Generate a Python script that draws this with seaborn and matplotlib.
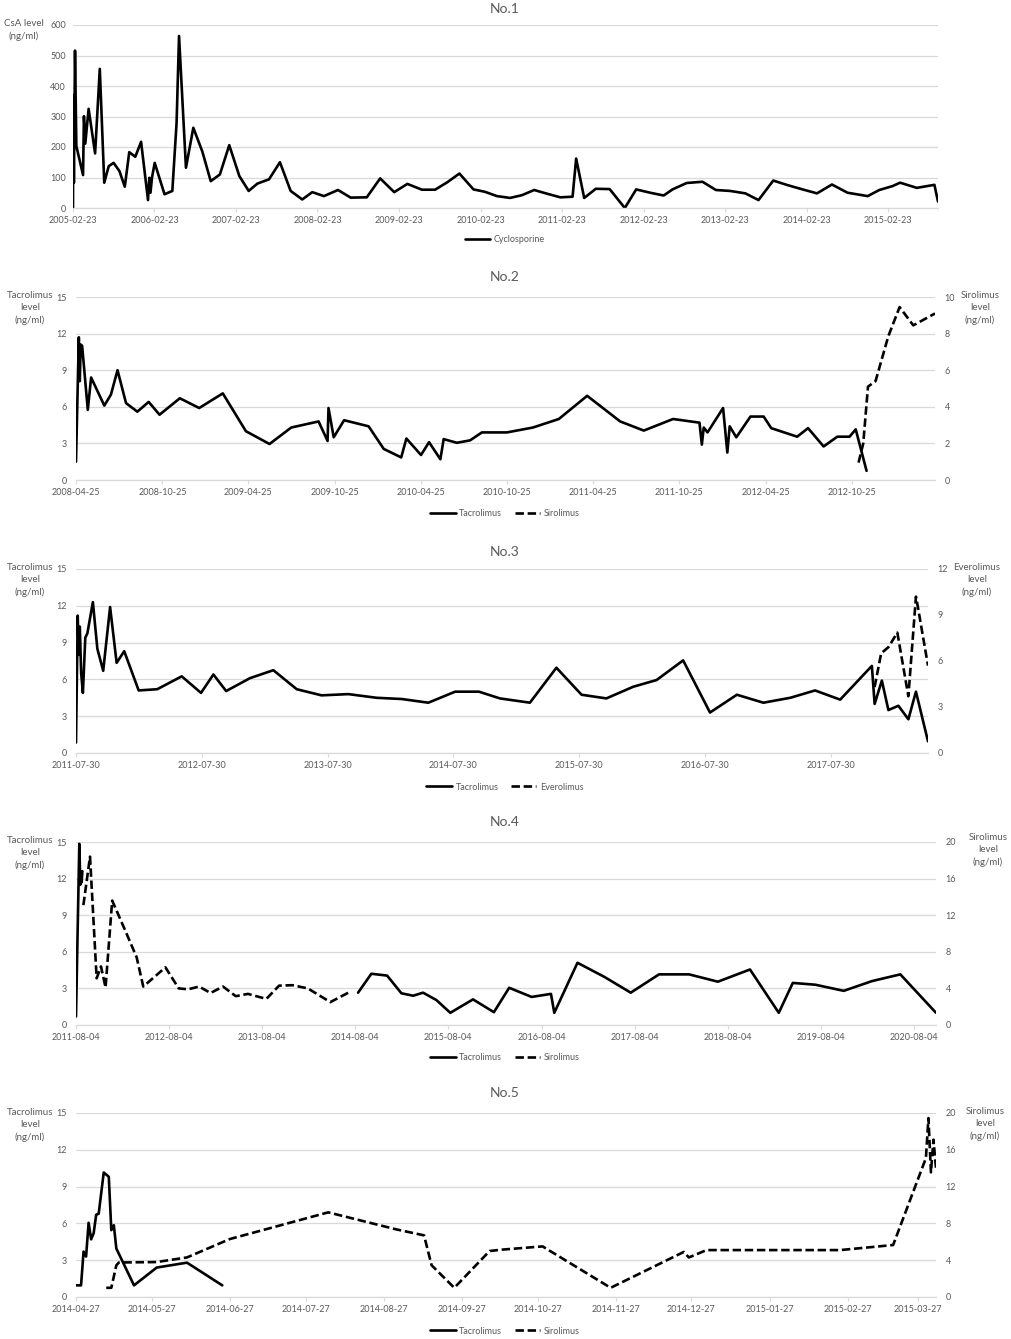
import numpy as np
import pandas as pd
import seaborn as sns
import matplotlib.pyplot as plt
import matplotlib.dates as mdates
from matplotlib.lines import Line2D

# ---- No.1 : cyclosporine ----
p1_dates = [
    "2005-02-23", "2005-02-24", "2005-02-27", "2005-03-04", "2005-03-10", "2005-04-09",
    "2005-04-13", "2005-04-19", "2005-05-04", "2005-06-02", "2005-06-23", "2005-07-13",
    "2005-08-02", "2005-08-24", "2005-09-19", "2005-10-13", "2005-11-02", "2005-11-29",
    "2005-12-25", "2006-01-25", "2006-01-31", "2006-02-05", "2006-02-12", "2006-02-24",
    "2006-04-09", "2006-05-14", "2006-06-02", "2006-06-13", "2006-07-14", "2006-08-16",
    "2006-09-25", "2006-11-02", "2006-12-13", "2007-01-24", "2007-03-10", "2007-04-21",
    "2007-05-30", "2007-07-21", "2007-09-08", "2007-10-26", "2007-12-17", "2008-01-31",
    "2008-03-23", "2008-05-25", "2008-07-21", "2008-10-01", "2008-11-30", "2009-02-01",
    "2009-04-01", "2009-06-05", "2009-08-03", "2009-09-28", "2009-11-20", "2010-01-22",
    "2010-03-15", "2010-05-07", "2010-07-05", "2010-08-27", "2010-10-21", "2010-12-17",
    "2011-02-15", "2011-04-11", "2011-04-27", "2011-06-02", "2011-07-24", "2011-09-24",
    "2011-12-01", "2012-01-21", "2012-03-24", "2012-05-23", "2012-07-02", "2012-09-03",
    "2012-11-13", "2013-01-12", "2013-03-16", "2013-05-24", "2013-07-22", "2013-09-26",
    "2013-11-29", "2014-02-04", "2014-04-10", "2014-06-16", "2014-08-25", "2014-11-23",
    "2015-01-14", "2015-03-15", "2015-04-17", "2015-07-01", "2015-09-18", "2015-10-04",
]
p1_csa = [
    0, 370, 83, 516, 203, 108,
    301, 211, 325, 179, 456, 83,
    137, 148, 121, 70, 183, 168,
    217, 26, 99, 50, 100, 148,
    45, 56, 279, 564, 132, 263,
    186, 88, 110, 206, 105, 56,
    80, 94, 150, 56, 28, 52,
    39, 59, 34, 35, 97, 52,
    79, 60, 60, 85, 113, 61,
    53, 39, 33, 42, 59, 47,
    35, 37, 162, 33, 63, 62,
    0, 61, 50, 41, 61, 82,
    86, 59, 56, 48, 26, 90,
    75, 61, 48, 77, 50, 39,
    59, 72, 83, 66, 76, 21,
]

# ---- No.2 : tacrolimus then sirolimus ----
p2_tac_dates = [
    "2008-04-25", "2008-05-01", "2008-05-03", "2008-05-05", "2008-05-08", "2008-05-20",
    "2008-05-27", "2008-06-24", "2008-07-08", "2008-07-22", "2008-08-09", "2008-09-02",
    "2008-09-26", "2008-10-19", "2008-12-01", "2009-01-11", "2009-03-02", "2009-04-20",
    "2009-06-09", "2009-07-25", "2009-09-21", "2009-10-10", "2009-10-12", "2009-10-23",
    "2009-11-14", "2010-01-05", "2010-02-06", "2010-03-15", "2010-03-26", "2010-04-26",
    "2010-05-13", "2010-06-06", "2010-06-13", "2010-07-11", "2010-08-08", "2010-09-02",
    "2010-10-25", "2010-12-19", "2011-02-12", "2011-04-13", "2011-06-22", "2011-08-11",
    "2011-10-12", "2011-12-07", "2011-12-12", "2011-12-16", "2011-12-24", "2012-01-26",
    "2012-02-04", "2012-02-09", "2012-02-23", "2012-03-24", "2012-04-21", "2012-05-07",
    "2012-07-01", "2012-07-24", "2012-08-26", "2012-09-24", "2012-10-20", "2012-11-02",
    "2012-11-25",
]
p2_tac = [
    1.5, 11.7, 8.1, 11.1, 11.0, 5.75,
    8.4, 6.1, 7.0, 9.0, 6.3, 5.6,
    6.4, 5.35, 6.7, 5.9, 7.1, 4.0,
    2.95, 4.3, 4.8, 3.2, 5.9, 3.5,
    4.9, 4.4, 2.55, 1.85, 3.4, 2.05,
    3.1, 1.7, 3.35, 3.05, 3.25, 3.9,
    3.9, 4.3, 5.0, 6.9, 4.8, 4.05,
    5.0, 4.7, 2.9, 4.3, 3.9, 5.9,
    2.25, 4.4, 3.5, 5.2, 5.2, 4.25,
    3.55, 4.25, 2.75, 3.55, 3.55, 4.15,
    0.75,
]
p2_sir_dates = ["2012-11-08", "2012-11-18", "2012-11-28", "2012-12-14",
                "2013-01-10", "2013-02-03", "2013-03-04", "2013-04-19"]
p2_sir = [0.95, 2.0, 5.1, 5.4, 7.85, 9.45, 8.45, 9.1]

# ---- No.3 : tacrolimus then everolimus ----
p3_tac_dates = [
    "2011-07-30", "2011-08-04", "2011-08-07", "2011-08-10", "2011-08-14", "2011-08-19",
    "2011-08-26", "2011-09-01", "2011-09-17", "2011-09-30", "2011-10-17", "2011-11-06",
    "2011-11-25", "2011-12-17", "2012-01-28", "2012-03-22", "2012-06-01", "2012-07-27",
    "2012-09-01", "2012-10-08", "2012-12-16", "2013-02-22", "2013-05-01", "2013-07-12",
    "2013-09-28", "2013-12-19", "2014-03-02", "2014-05-18", "2014-08-04", "2014-10-12",
    "2014-12-12", "2015-03-09", "2015-05-25", "2015-08-06", "2015-10-17", "2016-01-03",
    "2016-03-11", "2016-05-27", "2016-08-13", "2016-10-30", "2017-01-15", "2017-04-03",
    "2017-06-14", "2017-08-26", "2017-11-26", "2017-12-04", "2017-12-25", "2018-01-13",
    "2018-02-11", "2018-03-12", "2018-04-03", "2018-05-08",
]
p3_tac = [
    0.85, 11.2, 8.0, 10.3, 6.5, 4.9,
    9.4, 9.75, 12.3, 8.5, 6.7, 11.9,
    7.35, 8.3, 5.1, 5.2, 6.25, 4.9,
    6.4, 5.05, 6.1, 6.75, 5.2, 4.7,
    4.8, 4.5, 4.4, 4.1, 5.0, 5.0,
    4.45, 4.1, 6.95, 4.75, 4.45, 5.4,
    5.95, 7.55, 3.3, 4.75, 4.1, 4.5,
    5.1, 4.35, 7.1, 4.0, 5.9, 3.5,
    3.85, 2.75, 5.0, 0.95,
]
p3_eve_dates = ["2017-12-04", "2017-12-23", "2018-01-13", "2018-02-08",
                "2018-03-12", "2018-04-03", "2018-04-08", "2018-05-08"]
p3_eve = [4.3, 6.5, 6.9, 7.85, 3.7, 10.2, 9.6, 5.7]

# ---- No.4 : tacrolimus, sirolimus, tacrolimus ----
p4_tac_a_dates = ["2011-08-04", "2011-08-17", "2011-08-21", "2011-08-24", "2011-08-26", "2011-08-29"]
p4_tac_a = [0.7, 14.85, 11.5, 12.6, 11.7, 12.6]
p4_tac_b_dates = [
    "2014-08-15", "2014-10-06", "2014-12-07", "2015-02-01", "2015-03-19", "2015-04-27",
    "2015-06-18", "2015-08-12", "2015-11-09", "2016-01-30", "2016-03-30", "2016-06-26",
    "2016-09-10", "2016-09-23", "2016-12-23", "2017-04-07", "2017-07-20", "2017-11-08",
    "2018-03-06", "2018-06-27", "2018-10-31", "2019-02-21", "2019-04-17", "2019-07-15",
    "2019-11-03", "2020-02-22", "2020-06-12", "2020-10-30",
]
p4_tac_b = [
    2.65, 4.2, 4.05, 2.6, 2.4, 2.65,
    2.05, 1.0, 2.1, 1.05, 3.05, 2.3,
    2.55, 1.0, 5.1, 3.95, 2.65, 4.15,
    4.15, 3.55, 4.55, 1.0, 3.45, 3.3,
    2.8, 3.6, 4.15, 1.0,
]
p4_sir_dates = [
    "2011-09-02", "2011-09-28", "2011-10-24", "2011-11-10", "2011-11-28", "2011-12-24",
    "2012-02-12", "2012-03-29", "2012-04-24", "2012-07-20", "2012-09-10", "2012-10-17",
    "2012-11-29", "2013-01-13", "2013-03-03", "2013-04-22", "2013-06-09", "2013-08-20",
    "2013-10-09", "2013-11-30", "2014-01-30", "2014-04-28", "2014-07-09",
]
p4_sir = [
    13.1, 18.4, 5.1, 6.4, 4.1, 13.6,
    10.4, 7.4, 4.2, 6.3, 4.0, 3.9,
    4.2, 3.5, 4.2, 3.15, 3.4, 2.85,
    4.3, 4.35, 4.0, 2.5, 3.55,
]

# ---- No.5 : tacrolimus then sirolimus ----
p5_tac_dates = [
    "2014-04-27", "2014-04-29", "2014-04-30", "2014-05-01", "2014-05-02", "2014-05-03",
    "2014-05-04", "2014-05-05", "2014-05-06", "2014-05-08", "2014-05-10", "2014-05-11",
    "2014-05-12", "2014-05-13", "2014-05-20", "2014-05-29", "2014-06-10", "2014-06-24",
]
p5_tac = [
    0.95, 0.95, 3.7, 3.3, 6.05, 4.7,
    5.2, 6.7, 6.8, 10.15, 9.8, 5.45,
    5.85, 3.95, 0.95, 2.4, 2.8, 0.95,
]
p5_sir_dates = [
    "2014-05-09", "2014-05-11", "2014-05-13", "2014-05-14", "2014-05-29", "2014-06-10",
    "2014-06-27", "2014-08-05", "2014-09-01", "2014-09-12", "2014-09-15", "2014-09-24",
    "2014-10-08", "2014-10-13", "2014-10-29", "2014-11-25", "2014-12-24", "2014-12-26",
    "2015-01-02", "2015-02-24", "2015-03-17", "2015-03-30", "2015-03-31", "2015-04-01",
    "2015-04-02", "2015-04-03",
]
p5_sir = [
    1.0, 1.0, 3.45, 3.75, 3.8, 4.3,
    6.3, 9.2, 7.35, 6.7, 3.45, 1.0,
    5.0, 5.15, 5.5, 1.0, 4.9, 4.3,
    5.1, 5.1, 5.65, 15.1, 19.45, 13.55,
    17.1, 14.0,
]

W, H = 1012, 1339
GREY = "#595959"
GRID = "#d9d9d9"
LW = 1.9
DASH = (3.2, 1.4)
FS = 6.5

sns.set_theme(style="white")
plt.rcParams["font.family"] = ["Lato", "DejaVu Sans"]

fig = plt.figure(figsize=(W / 100, H / 100), dpi=100)


def px_axes(left, top, right, bottom):
    return fig.add_axes([left / W, 1 - bottom / H, (right - left) / W, (bottom - top) / H])


def series(ax, dates, values, dashed=False):
    df = pd.DataFrame({"date": pd.to_datetime(dates), "level": values})
    sns.lineplot(data=df, x="date", y="level", ax=ax, color="black", lw=LW,
                 estimator=None, dashes=False)
    if dashed:
        ax.get_lines()[-1].set_dashes(DASH)


def style(ax, ymax, ystep, start, end, ticks, pad):
    ax.set_ylim(0, ymax)
    ax.set_yticks(np.arange(0, ymax + ystep / 2, ystep))
    ax.set_xlim(pd.Timestamp(start), pd.Timestamp(end))
    ax.set_xticks(mdates.date2num(ticks))
    ax.xaxis.set_major_formatter(mdates.DateFormatter("%Y-%m-%d"))
    ax.grid(axis="y", color=GRID, lw=0.9)
    ax.grid(axis="x", visible=False)
    for s in ["top", "right", "left"]:
        ax.spines[s].set_visible(False)
    ax.spines["bottom"].set_color(GRID)
    ax.spines["bottom"].set_linewidth(0.9)
    ax.tick_params(axis="y", length=0, labelsize=FS, labelcolor=GREY, pad=pad)
    ax.tick_params(axis="x", bottom=True, length=3, width=0.8, color=GRID,
                   labelsize=FS, labelcolor=GREY, pad=3)
    ax.set_xlabel("")
    ax.set_ylabel("")


def right_axis(ax, ymax, ystep):
    ax2 = ax.twinx()
    ax2.set_ylim(0, ymax)
    ax2.set_yticks(np.arange(0, ymax + ystep / 2, ystep))
    for s in ax2.spines.values():
        s.set_visible(False)
    ax2.grid(False)
    ax2.tick_params(axis="y", length=0, labelsize=FS, labelcolor=GREY, pad=7)
    return ax2


def label(x, y, text):
    fig.text(x / W, 1 - y / H, text, ha="center", va="top", ma="center",
             fontsize=7, color=GREY, linespacing=1.45)


def title(y, text):
    fig.text(505 / W, 1 - y / H, text, ha="center", va="center", fontsize=10, color=GREY)


def legend(y, names):
    handles = [Line2D([], [], color="black", lw=LW)]
    if len(names) > 1:
        handles.append(Line2D([], [], color="black", lw=LW, dashes=DASH))
    fig.legend(handles, names, loc="center", bbox_to_anchor=(505 / W, 1 - y / H),
               ncol=len(names), frameon=False, fontsize=FS, labelcolor=GREY,
               handlelength=2.8, columnspacing=1.4, handletextpad=0.4)


def year_ticks(start, n, months=12):
    return [pd.Timestamp(start) + pd.DateOffset(months=months * i) for i in range(n)]


# panel 1
ax = px_axes(73, 25, 938, 208)
series(ax, p1_dates, p1_csa)
style(ax, 600, 100, "2005-02-23", "2015-10-04", year_ticks("2005-02-23", 11), 5)
title(9, "No.1")
label(24, 19, "CsA level\n(ng/ml)")
legend(240, ["Cyclosporine"])

# panel 2
ax = px_axes(76, 297, 935, 480)
series(ax, p2_tac_dates, p2_tac)
style(ax, 15, 3, "2008-04-25", "2013-04-19", year_ticks("2008-04-25", 10, 6), 6.5)
ax2 = right_axis(ax, 10, 2)
series(ax2, p2_sir_dates, p2_sir, dashed=True)
ax2.set_ylabel("")
title(277, "No.2")
label(30, 291, "Tacrolimus\nlevel\n(ng/ml)")
label(980, 291, "Sirolimus\nlevel\n(ng/ml)")
legend(514, ["Tacrolimus", "Sirolimus"])

# panel 3
ax = px_axes(76, 569, 928, 753)
series(ax, p3_tac_dates, p3_tac)
style(ax, 15, 3, "2011-07-30", "2018-05-08", year_ticks("2011-07-30", 7), 6.5)
ax2 = right_axis(ax, 12, 3)
series(ax2, p3_eve_dates, p3_eve, dashed=True)
ax2.set_ylabel("")
title(552, "No.3")
label(30, 563, "Tacrolimus\nlevel\n(ng/ml)")
label(977, 563, "Everolimus\nlevel\n(ng/ml)")
legend(787, ["Tacrolimus", "Everolimus"])

# panel 4
ax = px_axes(76, 842, 936, 1025)
series(ax, p4_tac_a_dates, p4_tac_a)
series(ax, p4_tac_b_dates, p4_tac_b)
style(ax, 15, 3, "2011-08-04", "2020-10-30", year_ticks("2011-08-04", 10), 6.5)
ax2 = right_axis(ax, 20, 4)
series(ax2, p4_sir_dates, p4_sir, dashed=True)
ax2.set_ylabel("")
title(822, "No.4")
label(30, 836, "Tacrolimus\nlevel\n(ng/ml)")
label(988, 833, "Sirolimus\nlevel\n(ng/ml)")
legend(1058, ["Tacrolimus", "Sirolimus"])

# panel 5
ax = px_axes(76, 1113, 936, 1297)
series(ax, p5_tac_dates, p5_tac)
style(ax, 15, 3, "2014-04-27", "2015-04-03", year_ticks("2014-04-27", 12, 1), 6.5)
ax2 = right_axis(ax, 20, 4)
series(ax2, p5_sir_dates, p5_sir, dashed=True)
ax2.set_ylabel("")
title(1093, "No.5")
label(30, 1108, "Tacrolimus\nlevel\n(ng/ml)")
label(985, 1107, "Sirolimus\nlevel\n(ng/ml)")
legend(1331, ["Tacrolimus", "Sirolimus"])

fig.savefig("out.png", dpi=100)
